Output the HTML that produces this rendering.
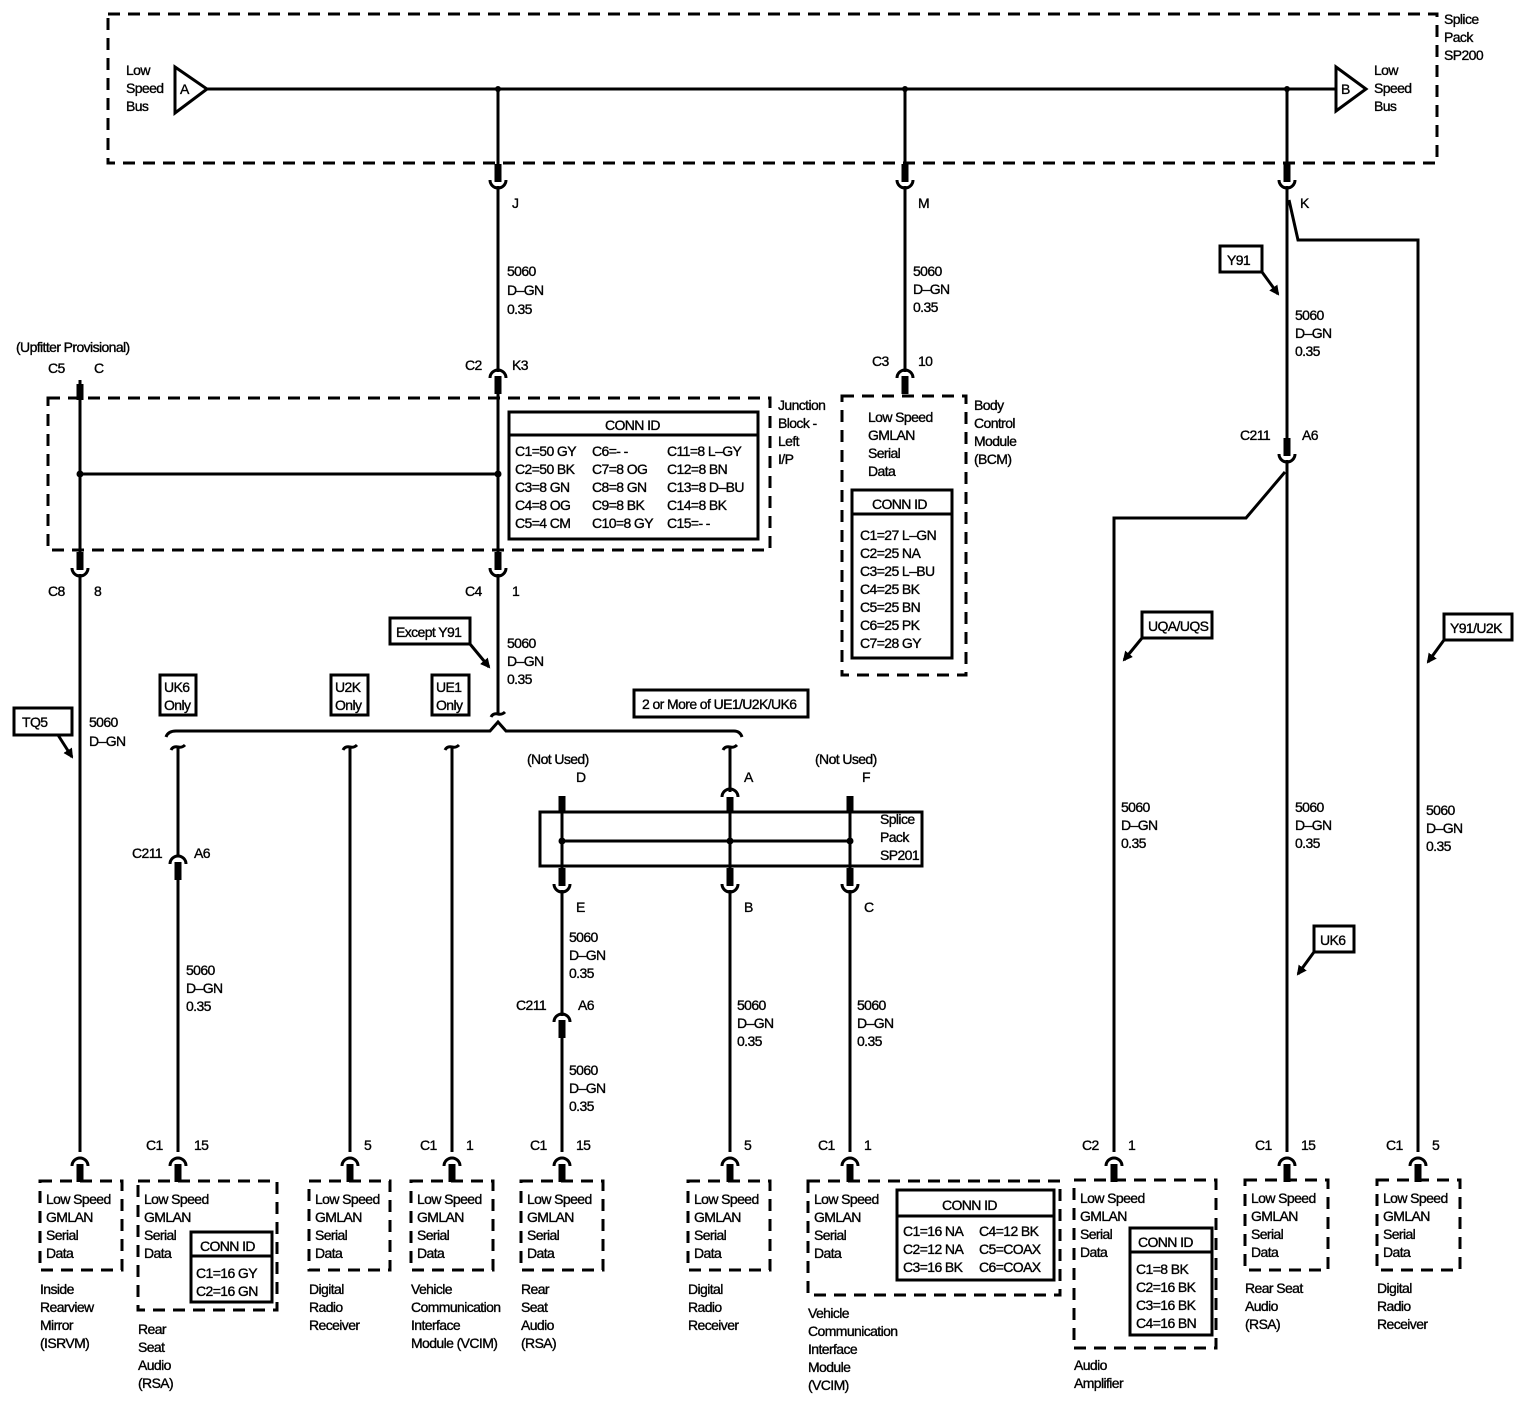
<!DOCTYPE html>
<html><head><meta charset="utf-8"><style>
html,body{margin:0;padding:0;background:#fff}
svg{display:block}
text{font-family:"Liberation Sans",Arial,sans-serif;font-size:14px;fill:#000;letter-spacing:-0.6px;stroke:#000;stroke-width:0.35}
.w{stroke:#000;stroke-width:3;fill:none}
.d{stroke:#000;stroke-width:3;fill:none;stroke-dasharray:12,8}
.b{stroke:#000;stroke-width:3;fill:#fff}
.t{stroke:#000;stroke-width:7}
</style></head><body>
<svg width="1528" height="1408" viewBox="0 0 1528 1408" xmlns="http://www.w3.org/2000/svg">
<defs>
<g id="cup"><path class="w" d="M-8,-6 A8,8 0 0 0 8,-6"/><line class="t" x1="0" y1="-22" x2="0" y2="-4"/></g>
<g id="cap"><path class="w" d="M-8,6 A8,8 0 0 1 8,6"/><line class="t" x1="0" y1="4" x2="0" y2="22"/></g>
<path id="tl" class="w" d="M-7,3 Q-5,-1 0,0 Q4,1 7,-2"/>
<marker id="ar" markerWidth="10" markerHeight="10" refX="8" refY="5" orient="auto" markerUnits="userSpaceOnUse"><path d="M0,0 L10,5 L0,10 Z"/></marker>
</defs>

<!-- top splice pack -->
<rect class="d" x="108" y="14" width="1329" height="149"/>
<line class="w" x1="205" y1="89" x2="1336" y2="89"/>
<polygon class="b" points="175,67 175,113 207,89"/><text x="180" y="94">A</text>
<polygon class="b" points="1336,67 1336,111 1366,89"/><text x="1341" y="94">B</text>
<text x="126" y="75">Low</text><text x="126" y="93">Speed</text><text x="126" y="111">Bus</text>
<text x="1374" y="75">Low</text><text x="1374" y="93">Speed</text><text x="1374" y="111">Bus</text>
<text x="1444" y="24">Splice</text><text x="1444" y="42">Pack</text><text x="1444" y="60">SP200</text>
<circle cx="498" cy="89" r="3"/><circle cx="905" cy="89" r="3"/><circle cx="1287" cy="89" r="3"/>

<!-- wire 498 -->
<line class="w" x1="498" y1="89" x2="498" y2="178"/>
<use href="#cup" x="498" y="186"/>
<line class="w" x1="498" y1="186" x2="498" y2="372"/>
<use href="#cap" x="498" y="372"/>
<line class="w" x1="498" y1="390" x2="498" y2="560"/>
<use href="#cup" x="498" y="574"/>
<line class="w" x1="498" y1="574" x2="498" y2="714"/>
<text x="512" y="208">J</text>
<text x="507" y="276">5060</text><text x="507" y="295">D–GN</text><text x="507" y="314">0.35</text>
<text x="465" y="370">C2</text><text x="512" y="370">K3</text>
<text x="465" y="596">C4</text><text x="512" y="596">1</text>
<text x="507" y="648">5060</text><text x="507" y="666">D–GN</text><text x="507" y="684">0.35</text>

<!-- junction block -->
<rect class="d" x="48" y="398" width="722" height="152"/>
<line class="w" x1="80" y1="474" x2="498" y2="474"/>
<circle cx="80" cy="474" r="3.5"/><circle cx="498" cy="474" r="3.5"/>
<rect class="b" x="509" y="412" width="249" height="127"/>
<line class="w" x1="509" y1="435" x2="758" y2="435"/>
<text x="605" y="430">CONN ID</text>
<text x="515" y="456">C1=50 GY</text><text x="592" y="456">C6=- -</text><text x="667" y="456">C11=8 L–GY</text>
<text x="515" y="474">C2=50 BK</text><text x="592" y="474">C7=8 OG</text><text x="667" y="474">C12=8 BN</text>
<text x="515" y="492">C3=8 GN</text><text x="592" y="492">C8=8 GN</text><text x="667" y="492">C13=8 D–BU</text>
<text x="515" y="510">C4=8 OG</text><text x="592" y="510">C9=8 BK</text><text x="667" y="510">C14=8 BK</text>
<text x="515" y="528">C5=4 CM</text><text x="592" y="528">C10=8 GY</text><text x="667" y="528">C15=- -</text>
<text x="778" y="410">Junction</text><text x="778" y="428">Block -</text><text x="778" y="446">Left</text><text x="778" y="464">I/P</text>

<!-- wire 80 -->
<text x="16" y="352">(Upfitter Provisional)</text>
<text x="48" y="373">C5</text><text x="94" y="373">C</text>
<line class="w" x1="80" y1="380" x2="80" y2="560"/>
<line class="t" x1="80" y1="384" x2="80" y2="400"/>
<use href="#cup" x="80" y="574"/>
<line class="w" x1="80" y1="574" x2="80" y2="1152"/>
<text x="48" y="596">C8</text><text x="94" y="596">8</text>
<text x="89" y="727">5060</text><text x="89" y="746">D–GN</text>

<!-- wire 905 / BCM -->
<line class="w" x1="905" y1="89" x2="905" y2="178"/>
<use href="#cup" x="905" y="186"/>
<line class="w" x1="905" y1="186" x2="905" y2="372"/>
<use href="#cap" x="905" y="372"/>
<text x="918" y="208">M</text>
<text x="913" y="276">5060</text><text x="913" y="294">D–GN</text><text x="913" y="312">0.35</text>
<text x="872" y="366">C3</text><text x="918" y="366">10</text>
<rect class="d" x="842" y="396" width="124" height="279"/>
<text x="868" y="422">Low Speed</text><text x="868" y="440">GMLAN</text><text x="868" y="458">Serial</text><text x="868" y="476">Data</text>
<text x="974" y="410">Body</text><text x="974" y="428">Control</text><text x="974" y="446">Module</text><text x="974" y="464">(BCM)</text>
<rect class="b" x="852" y="490" width="100" height="168"/>
<line class="w" x1="852" y1="514" x2="952" y2="514"/>
<text x="872" y="509">CONN ID</text>
<text x="860" y="540">C1=27 L–GN</text><text x="860" y="558">C2=25 NA</text><text x="860" y="576">C3=25 L–BU</text><text x="860" y="594">C4=25 BK</text><text x="860" y="612">C5=25 BN</text><text x="860" y="630">C6=25 PK</text><text x="860" y="648">C7=28 GY</text>

<!-- wire 1287 -->
<line class="w" x1="1287" y1="89" x2="1287" y2="178"/>
<use href="#cup" x="1287" y="186"/>
<line class="w" x1="1287" y1="186" x2="1287" y2="450"/>
<polyline class="w" points="1289,200 1298,240 1418,240 1418,1152"/>
<text x="1300" y="208">K</text>
<text x="1295" y="320">5060</text><text x="1295" y="338">D–GN</text><text x="1295" y="356">0.35</text>
<use href="#cup" x="1287" y="460"/>
<text x="1240" y="440">C211</text><text x="1302" y="440">A6</text>
<line class="w" x1="1287" y1="460" x2="1287" y2="1152"/>
<polyline class="w" points="1285,472 1246,518 1114,518 1114,1152"/>
<text x="1121" y="812">5060</text><text x="1121" y="830">D–GN</text><text x="1121" y="848">0.35</text>
<text x="1295" y="812">5060</text><text x="1295" y="830">D–GN</text><text x="1295" y="848">0.35</text>
<text x="1426" y="815">5060</text><text x="1426" y="833">D–GN</text><text x="1426" y="851">0.35</text>

<!-- flags -->
<g fill="none">
<rect class="b" x="1220" y="246" width="42" height="26"/><text x="1227" y="265">Y91</text>
<line class="w" x1="1262" y1="272" x2="1278" y2="294" marker-end="url(#ar)"/>
<rect class="b" x="1142" y="612" width="70" height="26"/><text x="1148" y="631">UQA/UQS</text>
<line class="w" x1="1142" y1="638" x2="1124" y2="660" marker-end="url(#ar)"/>
<rect class="b" x="1444" y="614" width="68" height="26"/><text x="1450" y="633">Y91/U2K</text>
<line class="w" x1="1444" y1="640" x2="1428" y2="662" marker-end="url(#ar)"/>
<rect class="b" x="1314" y="926" width="40" height="26"/><text x="1320" y="945">UK6</text>
<line class="w" x1="1314" y1="952" x2="1298" y2="974" marker-end="url(#ar)"/>
<rect class="b" x="14" y="708" width="58" height="27"/><text x="22" y="727">TQ5</text>
<line class="w" x1="58" y1="735" x2="72" y2="757" marker-end="url(#ar)"/>
<rect class="b" x="390" y="618" width="80" height="26"/><text x="396" y="637">Except Y91</text>
<line class="w" x1="470" y1="644" x2="489" y2="667" marker-end="url(#ar)"/>
<rect class="b" x="160" y="675" width="36" height="40"/><text x="164" y="692">UK6</text><text x="164" y="710">Only</text>
<rect class="b" x="331" y="675" width="37" height="40"/><text x="335" y="692">U2K</text><text x="335" y="710">Only</text>
<rect class="b" x="432" y="675" width="37" height="40"/><text x="436" y="692">UE1</text><text x="436" y="710">Only</text>
<rect class="b" x="634" y="690" width="174" height="27"/><text x="642" y="709">2 or More of UE1/U2K/UK6</text>
</g>

<!-- bracket -->
<use href="#tl" x="498" y="714"/>
<path class="w" d="M166,737 Q168,731 176,731 L490,731 L498,722 L506,731 L734,731 Q740,731 742,737"/>
<use href="#tl" x="178" y="747"/><use href="#tl" x="350" y="747"/><use href="#tl" x="452" y="747"/><use href="#tl" x="730" y="747"/>
<line class="w" x1="178" y1="746" x2="178" y2="856"/>
<use href="#cap" x="178" y="858"/>
<line class="w" x1="178" y1="876" x2="178" y2="1152"/>
<text x="132" y="858">C211</text><text x="194" y="858">A6</text>
<text x="186" y="975">5060</text><text x="186" y="993">D–GN</text><text x="186" y="1011">0.35</text>
<line class="w" x1="350" y1="746" x2="350" y2="1152"/>
<line class="w" x1="452" y1="746" x2="452" y2="1152"/>

<!-- SP201 -->
<text x="527" y="764">(Not Used)</text><text x="815" y="764">(Not Used)</text>
<text x="576" y="782">D</text><text x="744" y="782">A</text><text x="862" y="782">F</text>
<line class="w" x1="730" y1="746" x2="730" y2="792"/>
<path class="w" d="M722,797 A8,8 0 0 1 738,797"/>
<line class="t" x1="730" y1="797" x2="730" y2="812"/>
<line class="t" x1="562" y1="796" x2="562" y2="812"/><line class="t" x1="850" y1="796" x2="850" y2="812"/>
<rect x="540" y="812" width="382" height="54" fill="none" stroke="#000" stroke-width="3"/>
<line class="w" x1="562" y1="812" x2="562" y2="880"/><line class="w" x1="730" y1="812" x2="730" y2="880"/><line class="w" x1="850" y1="812" x2="850" y2="880"/>
<line class="w" x1="562" y1="841" x2="850" y2="841"/>
<circle cx="562" cy="841" r="3.5"/><circle cx="730" cy="841" r="3.5"/><circle cx="850" cy="841" r="3.5"/>
<text x="880" y="824">Splice</text><text x="880" y="842">Pack</text><text x="880" y="860">SP201</text>
<use href="#cup" x="562" y="890"/><use href="#cup" x="730" y="890"/><use href="#cup" x="850" y="890"/>
<text x="576" y="912">E</text><text x="744" y="912">B</text><text x="864" y="912">C</text>
<line class="w" x1="562" y1="890" x2="562" y2="1016"/>
<use href="#cap" x="562" y="1016"/>
<line class="w" x1="562" y1="1034" x2="562" y2="1152"/>
<text x="569" y="942">5060</text><text x="569" y="960">D–GN</text><text x="569" y="978">0.35</text>
<text x="516" y="1010">C211</text><text x="578" y="1010">A6</text>
<text x="569" y="1075">5060</text><text x="569" y="1093">D–GN</text><text x="569" y="1111">0.35</text>
<line class="w" x1="730" y1="890" x2="730" y2="1152"/>
<text x="737" y="1010">5060</text><text x="737" y="1028">D–GN</text><text x="737" y="1046">0.35</text>
<line class="w" x1="850" y1="890" x2="850" y2="1152"/>
<text x="857" y="1010">5060</text><text x="857" y="1028">D–GN</text><text x="857" y="1046">0.35</text>

<!-- bottom connectors -->
<use href="#cap" x="80" y="1160"/>
<use href="#cap" x="178" y="1160"/><text x="146" y="1150">C1</text><text x="194" y="1150">15</text>
<use href="#cap" x="350" y="1160"/><text x="364" y="1150">5</text>
<use href="#cap" x="452" y="1160"/><text x="420" y="1150">C1</text><text x="466" y="1150">1</text>
<use href="#cap" x="562" y="1160"/><text x="530" y="1150">C1</text><text x="576" y="1150">15</text>
<use href="#cap" x="730" y="1160"/><text x="744" y="1150">5</text>
<use href="#cap" x="850" y="1160"/><text x="818" y="1150">C1</text><text x="864" y="1150">1</text>
<use href="#cap" x="1114" y="1160"/><text x="1082" y="1150">C2</text><text x="1128" y="1150">1</text>
<use href="#cap" x="1287" y="1160"/><text x="1255" y="1150">C1</text><text x="1301" y="1150">15</text>
<use href="#cap" x="1418" y="1160"/><text x="1386" y="1150">C1</text><text x="1432" y="1150">5</text>

<!-- bottom boxes -->
<g>
<rect class="d" x="40" y="1181" width="82" height="89"/>
<text x="46" y="1204">Low Speed</text><text x="46" y="1222">GMLAN</text><text x="46" y="1240">Serial</text><text x="46" y="1258">Data</text>
<text x="40" y="1294">Inside</text><text x="40" y="1312">Rearview</text><text x="40" y="1330">Mirror</text><text x="40" y="1348">(ISRVM)</text>

<rect class="d" x="138" y="1181" width="139" height="129"/>
<text x="144" y="1204">Low Speed</text><text x="144" y="1222">GMLAN</text><text x="144" y="1240">Serial</text><text x="144" y="1258">Data</text>
<rect class="b" x="191" y="1232" width="81" height="70"/><line class="w" x1="191" y1="1256" x2="272" y2="1256"/>
<text x="200" y="1251">CONN ID</text><text x="196" y="1278">C1=16 GY</text><text x="196" y="1296">C2=16 GN</text>
<text x="138" y="1334">Rear</text><text x="138" y="1352">Seat</text><text x="138" y="1370">Audio</text><text x="138" y="1388">(RSA)</text>

<rect class="d" x="309" y="1181" width="81" height="89"/>
<text x="315" y="1204">Low Speed</text><text x="315" y="1222">GMLAN</text><text x="315" y="1240">Serial</text><text x="315" y="1258">Data</text>
<text x="309" y="1294">Digital</text><text x="309" y="1312">Radio</text><text x="309" y="1330">Receiver</text>

<rect class="d" x="411" y="1181" width="82" height="89"/>
<text x="417" y="1204">Low Speed</text><text x="417" y="1222">GMLAN</text><text x="417" y="1240">Serial</text><text x="417" y="1258">Data</text>
<text x="411" y="1294">Vehicle</text><text x="411" y="1312">Communication</text><text x="411" y="1330">Interface</text><text x="411" y="1348">Module (VCIM)</text>

<rect class="d" x="521" y="1181" width="82" height="89"/>
<text x="527" y="1204">Low Speed</text><text x="527" y="1222">GMLAN</text><text x="527" y="1240">Serial</text><text x="527" y="1258">Data</text>
<text x="521" y="1294">Rear</text><text x="521" y="1312">Seat</text><text x="521" y="1330">Audio</text><text x="521" y="1348">(RSA)</text>

<rect class="d" x="688" y="1181" width="82" height="89"/>
<text x="694" y="1204">Low Speed</text><text x="694" y="1222">GMLAN</text><text x="694" y="1240">Serial</text><text x="694" y="1258">Data</text>
<text x="688" y="1294">Digital</text><text x="688" y="1312">Radio</text><text x="688" y="1330">Receiver</text>

<rect class="d" x="808" y="1181" width="252" height="114"/>
<text x="814" y="1204">Low Speed</text><text x="814" y="1222">GMLAN</text><text x="814" y="1240">Serial</text><text x="814" y="1258">Data</text>
<rect class="b" x="897" y="1190" width="157" height="90"/><line class="w" x1="897" y1="1216" x2="1054" y2="1216"/>
<text x="942" y="1210">CONN ID</text>
<text x="903" y="1236">C1=16 NA</text><text x="979" y="1236">C4=12 BK</text>
<text x="903" y="1254">C2=12 NA</text><text x="979" y="1254">C5=COAX</text>
<text x="903" y="1272">C3=16 BK</text><text x="979" y="1272">C6=COAX</text>
<text x="808" y="1318">Vehicle</text><text x="808" y="1336">Communication</text><text x="808" y="1354">Interface</text><text x="808" y="1372">Module</text><text x="808" y="1390">(VCIM)</text>

<rect class="d" x="1074" y="1180" width="142" height="168"/>
<text x="1080" y="1203">Low Speed</text><text x="1080" y="1221">GMLAN</text><text x="1080" y="1239">Serial</text><text x="1080" y="1257">Data</text>
<rect class="b" x="1130" y="1228" width="82" height="107"/><line class="w" x1="1130" y1="1252" x2="1212" y2="1252"/>
<text x="1138" y="1247">CONN ID</text>
<text x="1136" y="1274">C1=8 BK</text><text x="1136" y="1292">C2=16 BK</text><text x="1136" y="1310">C3=16 BK</text><text x="1136" y="1328">C4=16 BN</text>
<text x="1074" y="1370">Audio</text><text x="1074" y="1388">Amplifier</text>

<rect class="d" x="1245" y="1180" width="83" height="90"/>
<text x="1251" y="1203">Low Speed</text><text x="1251" y="1221">GMLAN</text><text x="1251" y="1239">Serial</text><text x="1251" y="1257">Data</text>
<text x="1245" y="1293">Rear Seat</text><text x="1245" y="1311">Audio</text><text x="1245" y="1329">(RSA)</text>

<rect class="d" x="1377" y="1180" width="83" height="90"/>
<text x="1383" y="1203">Low Speed</text><text x="1383" y="1221">GMLAN</text><text x="1383" y="1239">Serial</text><text x="1383" y="1257">Data</text>
<text x="1377" y="1293">Digital</text><text x="1377" y="1311">Radio</text><text x="1377" y="1329">Receiver</text>
</g>
</svg>
</body></html>
